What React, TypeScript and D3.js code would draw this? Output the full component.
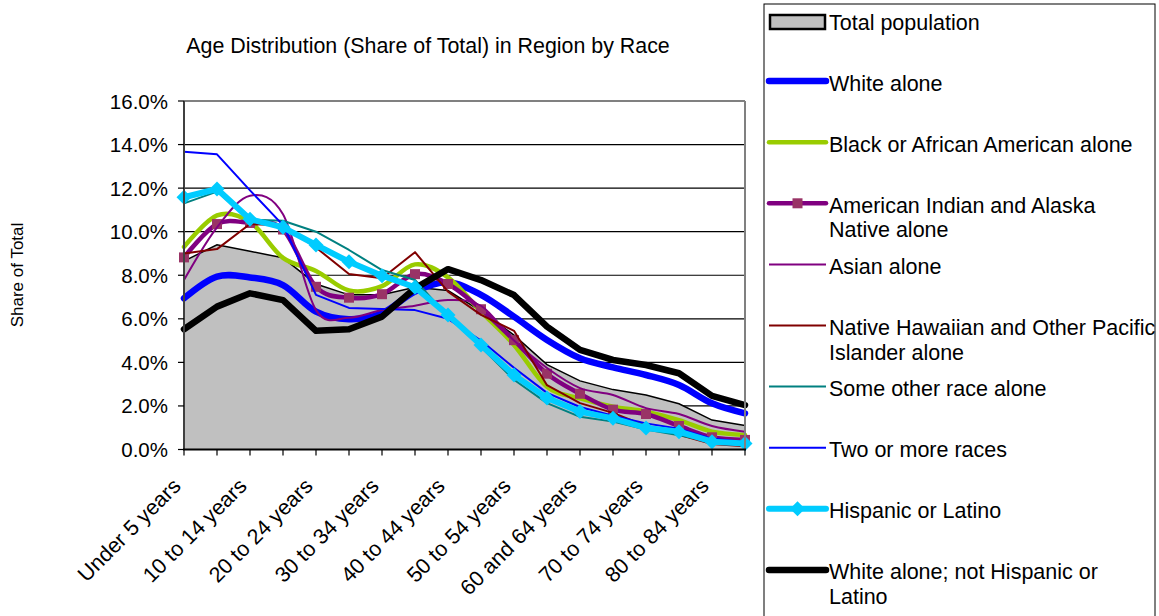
import React from 'react';
import * as d3 from 'd3';

const categories = [
  'Under 5 years', '5 to 9 years', '10 to 14 years', '15 to 19 years', '20 to 24 years',
  '25 to 29 years', '30 to 34 years', '35 to 39 years', '40 to 44 years', '45 to 49 years',
  '50 to 54 years', '55 to 59 years', '60 and 64 years', '65 to 69 years', '70 to 74 years',
  '75 to 79 years', '80 to 84 years', '85 years and over',
];

const totalPopulation = [8.65, 9.4, 9.1, 8.8, 7.6, 7.1, 7.1, 7.45, 7.3, 6.35, 5.25, 3.9, 3.15, 2.75, 2.5, 2.1, 1.35, 1.1];
const whiteAlone = [6.94, 7.94, 7.9, 7.55, 6.33, 5.98, 6.25, 7.25, 7.68, 7.1, 6.1, 5.03, 4.19, 3.77, 3.42, 2.96, 2.12, 1.66];
const blackAlone = [9.3, 10.75, 10.45, 8.8, 8.2, 7.3, 7.5, 8.5, 7.9, 6.33, 4.8, 2.88, 2.35, 1.97, 1.74, 1.35, 0.82, 0.67];
const amIndianAlone = [8.82, 10.35, 10.4, 10.1, 7.47, 6.97, 7.13, 8.05, 7.6, 6.44, 5.02, 3.48, 2.56, 1.83, 1.63, 1.08, 0.56, 0.44];
const asianAlone = [7.78, 10.2, 11.65, 10.8, 6.4, 6.05, 6.4, 6.6, 6.86, 6.6, 5.0, 3.74, 2.82, 2.5, 1.9, 1.63, 1.08, 0.82];
const hawaiianAlone = [9.0, 9.2, 10.35, 10.3, 9.27, 8.06, 7.86, 9.06, 7.25, 6.18, 5.45, 2.95, 2.13, 1.68, 1.08, 0.67, 0.25, 0.15];
const otherRaceAlone = [11.3, 11.84, 10.55, 10.5, 10.0, 9.16, 8.24, 7.78, 6.1, 4.7, 3.2, 2.13, 1.5, 1.28, 0.92, 0.65, 0.35, 0.2];
const twoOrMoreRaces = [13.67, 13.55, 11.9, 10.3, 7.1, 6.5, 6.45, 6.4, 6.0, 5.0, 3.75, 2.6, 1.95, 1.55, 1.2, 0.95, 0.5, 0.35];
const hispanicOrLatino = [11.58, 11.96, 10.57, 10.2, 9.39, 8.62, 7.98, 7.45, 6.18, 4.8, 3.42, 2.36, 1.74, 1.43, 0.99, 0.82, 0.36, 0.28];
const whiteNotHispanic = [5.52, 6.56, 7.17, 6.86, 5.45, 5.52, 6.1, 7.4, 8.28, 7.78, 7.09, 5.64, 4.57, 4.11, 3.88, 3.5, 2.46, 2.04];

const yTicks = [0, 2, 4, 6, 8, 10, 12, 14, 16];
const legendLabels = [
  ['Total population'],
  ['White alone'],
  ['Black or African American alone'],
  ['American Indian and Alaska', 'Native alone'],
  ['Asian alone'],
  ['Native Hawaiian and Other Pacific', 'Islander alone'],
  ['Some other race alone'],
  ['Two or more races'],
  ['Hispanic or Latino'],
  ['White alone; not Hispanic or', 'Latino'],
];

const FONT = '"Liberation Sans", Arial, sans-serif';

type Style = { color: string; width: number; smooth: boolean; marker?: 'square' | 'diamond' };
const styles: Record<string, Style> = {
  white: { color: '#0000FF', width: 6.5, smooth: true },
  black: { color: '#99CC00', width: 4.5, smooth: true },
  amind: { color: '#800080', width: 4.5, smooth: true, marker: 'square' },
  asian: { color: '#800080', width: 2, smooth: true },
  nhpi: { color: '#800000', width: 2, smooth: false },
  other: { color: '#008080', width: 2, smooth: false },
  two: { color: '#0000FF', width: 2, smooth: false },
  wnh: { color: '#000000', width: 6.5, smooth: false },
  hisp: { color: '#00CCFF', width: 6, smooth: false, marker: 'diamond' },
};

const drawOrder: [string, number[]][] = [
  ['white', whiteAlone],
  ['black', blackAlone],
  ['amind', amIndianAlone],
  ['asian', asianAlone],
  ['nhpi', hawaiianAlone],
  ['other', otherRaceAlone],
  ['two', twoOrMoreRaces],
  ['wnh', whiteNotHispanic],
  ['hisp', hispanicOrLatino],
];
const legendKeys = ['total', 'white', 'black', 'amind', 'asian', 'nhpi', 'other', 'two', 'hisp', 'wnh'];

const P = { left: 184, right: 745, top: 101, bottom: 449.5 };

function Marker({ type, cx, cy }: { type?: string; cx: number; cy: number }) {
  if (type === 'square') return <rect x={cx - 5} y={cy - 5} width={10} height={10} fill="#993366" />;
  if (type === 'diamond') {
    const r = 7.5;
    return <path d={`M${cx},${cy - r}L${cx + r},${cy}L${cx},${cy + r}L${cx - r},${cy}Z`} fill="#00CCFF" />;
  }
  return null;
}

export default function App() {
  const x = d3.scalePoint<string>().domain(categories).range([P.left, P.right]);
  const y = d3.scaleLinear().domain([0, 16]).range([P.bottom, P.top]);
  const pts = (vals: number[]) => vals.map((v, i) => [x(categories[i]) as number, y(v)] as [number, number]);
  const smoothLine = d3.line().curve(d3.curveCardinal.tension(0));
  const straightLine = d3.line();
  const area = d3.area<number>()
    .x((_, i) => x(categories[i]) as number)
    .y0(y(0))
    .y1((d) => y(d));
  const topLine = d3.line<number>().x((_, i) => x(categories[i]) as number).y((d) => y(d));

  const legendX = 764;
  const legendY0 = 22;
  const legendStep = 61.1;

  return (
    <svg width={1159} height={616} style={{ position: 'absolute', left: 0, top: 0, background: '#fff' }}
      fontFamily={FONT}>
      <rect x={0} y={0} width={1159} height={616} fill="#fff" />
      <text x={428} y={53} fontSize={21.4} textAnchor="middle" fill="#000">
        Age Distribution (Share of Total) in Region by Race
      </text>
      <text transform={`translate(23,275) rotate(-90)`} fontSize={17} textAnchor="middle" fill="#000">
        Share of Total
      </text>

      {/* plot area */}
      <rect x={P.left} y={P.top} width={P.right - P.left} height={P.bottom - P.top} fill="#fff" />
      {yTicks.slice(1).map((t) => (
        <line key={t} x1={P.left} x2={P.right} y1={y(t)} y2={y(t)} stroke="#000" strokeWidth={1.2} />
      ))}
      <path d={area(totalPopulation) || ''} fill="#C0C0C0" />
      <path d={topLine(totalPopulation) || ''} fill="none" stroke="#000" strokeWidth={1.5} />

      {drawOrder.map(([k, vals]) => {
        const s = styles[k];
        const gen = s.smooth ? smoothLine : straightLine;
        return (
          <g key={k}>
            <path d={gen(pts(vals)) || ''} fill="none" stroke={s.color} strokeWidth={s.width}
              strokeLinejoin="round" strokeLinecap="round" />
            {s.marker && pts(vals).map(([px, py], i) => <Marker key={i} type={s.marker} cx={px} cy={py} />)}
          </g>
        );
      })}

      {/* border */}
      <line x1={P.left} x2={P.right} y1={P.top} y2={P.top} stroke="#808080" strokeWidth={2} />
      <line x1={P.right} x2={P.right} y1={P.top} y2={P.bottom} stroke="#808080" strokeWidth={2} />
      <line x1={P.left} x2={P.left} y1={P.top} y2={P.bottom} stroke="#404040" strokeWidth={2} />
      <line x1={P.left - 1} x2={P.right + 1} y1={P.bottom} y2={P.bottom} stroke="#000" strokeWidth={2} />

      {yTicks.map((t) => (
        <g key={t}>
          <line x1={P.left - 6} x2={P.left} y1={y(t)} y2={y(t)} stroke="#000" strokeWidth={1.2} />
          <text x={168} y={y(t) + 7.5} fontSize={20.5} textAnchor="end" fill="#000">{t.toFixed(1)}%</text>
        </g>
      ))}
      {categories.map((c, i) => (
        <g key={c}>
          <line x1={x(c)} x2={x(c)} y1={P.bottom} y2={P.bottom + 6} stroke="#000" strokeWidth={1.2} />
          {i % 2 === 0 && (
            <text transform={`translate(${(x(c) as number) - 2},${P.bottom + 38}) rotate(-45)`}
              fontSize={21.5} textAnchor="end" fill="#000">{c}</text>
          )}
        </g>
      ))}

      {/* legend */}
      <rect x={legendX} y={4} width={391} height={640} fill="#fff" stroke="#000" strokeWidth={1} />
      {legendKeys.map((k, j) => {
        const cy = legendY0 + j * legendStep;
        const lines = legendLabels[j];
        let sym: React.ReactNode;
        if (k === 'total') {
          sym = <rect x={770} y={cy - 7} width={55} height={14} fill="#C0C0C0" stroke="#000" strokeWidth={2.5} />;
        } else {
          const s = styles[k];
          const ly = cy - 2;
          sym = (
            <g>
              <line x1={769} x2={826} y1={ly} y2={ly} stroke={s.color} strokeWidth={s.width}
                strokeLinecap={s.width > 3 ? 'round' : 'butt'} />
              {s.marker && <Marker type={s.marker} cx={797.5} cy={ly} />}
            </g>
          );
        }
        return (
          <g key={k}>
            {sym}
            {lines.map((t, li) => (
              <text key={li} x={829} y={cy + 7.5 + li * 24.5} fontSize={21.5} fill="#000">{t}</text>
            ))}
          </g>
        );
      })}
    </svg>
  );
}
